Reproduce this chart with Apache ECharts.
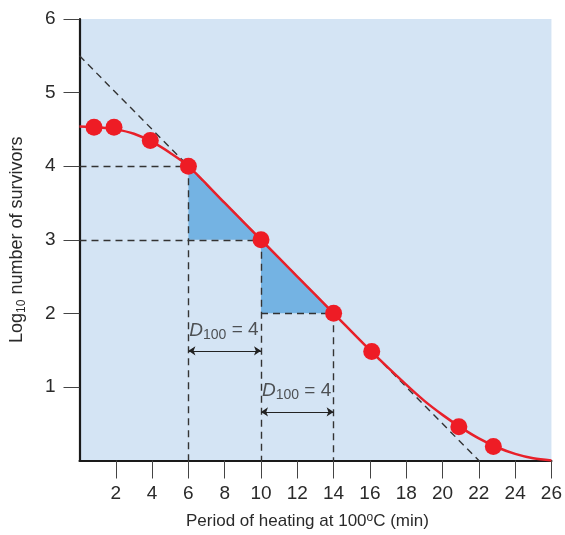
<!DOCTYPE html>
<html>
<head>
<meta charset="utf-8">
<script src="https://cdn.jsdelivr.net/npm/echarts@6/dist/echarts.min.js"></script>
<style>
  html, body { margin: 0; padding: 0; background: #fff; }
  #main { width: 565px; height: 535px; }
</style>
</head>
<body>
<div id="main"></div>
<script>
// measured points (red dots)
var dotX = [0.8, 1.9, 3.9, 6, 10, 14, 16.1, 20.9, 22.8];
var dotY = [4.53, 4.53, 4.35, 4.0, 3.0, 2.0, 1.48, 0.46, 0.19];

// survivor curve
var curveX = [0, 1, 2, 3, 4, 5, 6, 8, 10, 12, 14, 16, 18, 19, 20, 21, 22, 23, 24, 25, 26];
var curveY = [4.54, 4.53, 4.5, 4.44, 4.33, 4.18, 4.0, 3.5, 3.0, 2.5, 2.0, 1.5, 1.03, 0.81, 0.62, 0.45, 0.3, 0.18, 0.09, 0.03, 0.0];

// ticks
var xTicks = [2, 4, 6, 8, 10, 12, 14, 16, 18, 20, 22, 24, 26];
var yTicks = [1, 2, 3, 4, 5, 6];

// dashed guide lines
var guideLines = [
  [[0, 5.5], [22, 0]],
  [[0, 4], [6, 4]],
  [[0, 3], [10, 3]],
  [[10, 2], [14, 2]],
  [[6, 4], [6, 0]],
  [[10, 3], [10, 0]],
  [[14, 2], [14, 0]]
];

// shaded triangles
var triangles = [
  [[6, 4], [6, 3], [10, 3]],
  [[10, 3], [10, 2], [14, 2]]
];

// D value arrows and labels
var arrows = [
  [[6, 1.49], [10, 1.49]],
  [[10, 0.66], [14, 0.66]]
];
var dLabels = [[6.05, 1.77], [10.05, 0.95]];

var font = '"Liberation Sans", Arial, sans-serif';
var ink = '#2a2a2a';

var myChart = echarts.init(document.getElementById('main'));

var option = {
  animation: false,
  grid: {
    left: 78, right: 12, top: 19, bottom: 71,
    show: true, backgroundColor: '#d4e4f4', borderWidth: 0
  },
  xAxis: {
    type: 'value', min: 0, max: 26, interval: 2,
    name: 'Period of heating at 100{sup|o}C (min)',
    nameLocation: 'middle', nameGap: 51,
    nameTextStyle: {
      fontFamily: font, fontSize: 17, color: ink, padding: [0, 16, 0, 0],
      rich: { sup: { fontFamily: font, fontSize: 12, color: ink, verticalAlign: 'top', padding: [0, 0, 8, 0] } }
    },
    splitLine: { show: false },
    axisLine: { lineStyle: { color: '#1a1a1a', width: 2.2 } },
    axisTick: { length: 18, customValues: xTicks, lineStyle: { color: '#444', width: 1 } },
    axisLabel: { customValues: xTicks, margin: 24, fontFamily: font, fontSize: 19, color: ink }
  },
  yAxis: {
    type: 'value', min: 0, max: 6, interval: 1,
    name: 'Log{sub|10} number of survivors',
    nameLocation: 'middle', nameGap: 52,
    nameTextStyle: {
      fontFamily: font, fontSize: 18, color: ink,
      rich: { sub: { fontFamily: font, fontSize: 12, color: ink, verticalAlign: 'bottom', padding: [9, 0, 0, 0] } }
    },
    splitLine: { show: false },
    axisLine: { show: true, lineStyle: { color: '#1a1a1a', width: 2.2 } },
    axisTick: { show: true, length: 16, customValues: yTicks, lineStyle: { color: '#444', width: 1 } },
    axisLabel: { customValues: yTicks, margin: 24, fontFamily: font, fontSize: 19, color: ink }
  },
  series: [
    {
      // blue triangles
      type: 'custom',
      z: 1,
      data: triangles.map(function (t, i) { return [i]; }),
      renderItem: function (params, api) {
        var t = triangles[params.dataIndex];
        return {
          type: 'polygon',
          shape: { points: t.map(function (p) { return api.coord(p); }) },
          style: { fill: '#74b3e3' }
        };
      }
    },
    {
      type: 'lines',
      coordinateSystem: 'cartesian2d',
      z: 2,
      silent: true,
      lineStyle: { color: '#333', width: 1.4, type: [7, 5], opacity: 1 },
      data: guideLines.map(function (c) { return { coords: c }; })
    },
    {
      type: 'lines',
      coordinateSystem: 'cartesian2d',
      z: 2,
      silent: true,
      symbol: ['arrow', 'arrow'],
      symbolSize: 7,
      lineStyle: { color: '#222', width: 1.2, opacity: 1 },
      data: arrows.map(function (c) { return { coords: c }; })
    },
    {
      type: 'line',
      z: 3,
      smooth: 0.3,
      symbol: 'none',
      lineStyle: { color: '#e8202a', width: 2.5 },
      data: curveX.map(function (x, i) { return [x, curveY[i]]; })
    },
    {
      type: 'scatter',
      z: 4,
      symbolSize: 17,
      itemStyle: { color: '#ee1c25', opacity: 1 },
      data: dotX.map(function (x, i) { return [x, dotY[i]]; })
    },
    {
      type: 'scatter',
      z: 5,
      symbolSize: 0,
      silent: true,
      label: {
        show: true,
        position: 'right',
        distance: 0,
        formatter: '{d|D}{s|100} = 4',
        fontFamily: font, fontSize: 19, color: ink,
        rich: {
          d: { fontFamily: font, fontSize: 19, fontStyle: 'italic', color: ink },
          s: { fontFamily: font, fontSize: 14, color: ink, verticalAlign: 'bottom', padding: [9, 0, 0, 0] }
        }
      },
      data: dLabels
    }
  ]
};

myChart.setOption(option);
</script>
</body>
</html>
